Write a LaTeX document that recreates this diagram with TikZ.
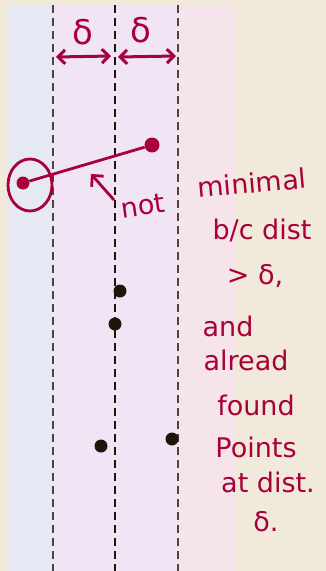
\documentclass[tikz,border=0pt]{standalone}
\usepackage{fontspec}
\setmainfont{DejaVu Sans}
\usetikzlibrary{arrows.meta}
\definecolor{bg}{HTML}{F1EADA}
\definecolor{bandA}{HTML}{E6E8F4}
\definecolor{bandB}{HTML}{F1E4F4}
\definecolor{bandC}{HTML}{F5E5EA}
\definecolor{ink}{HTML}{A8003A}
\definecolor{dk}{HTML}{1E160C}
\tikzset{
  x=1pt,y=-1pt,
  divider/.style={draw=dk!80, line width=1.4pt, dash pattern=on 8pt off 5pt},
  mainline/.style={draw=dk, line width=2.3pt, dash pattern=on 8pt off 5pt},
  hand/.style={text=ink, font=\fontsize{27}{28}\selectfont, inner sep=0pt},
  dotr/.style={circle, fill=ink, inner sep=0pt, minimum size=13pt},
  dotb/.style={circle, fill=dk, inner sep=0pt, minimum size=13pt},
  dimarrow/.style={draw=ink, line width=3pt, {Straight Barb[length=7pt,width=14pt]}-{Straight Barb[length=7pt,width=14pt]}},
}
\begin{document}
\begin{tikzpicture}
\useasboundingbox (0,0) rectangle (326,571);
\fill[bg] (0,0) rectangle (326,571);
\fill[bandA] (7,5) rectangle (53,571);
\fill[bandB] (53,5) rectangle (178,571);
\fill[bandC] (178,5) rectangle (235,571);
\coordinate (l1t) at (53,5); \coordinate (l1b) at (53,571);
\coordinate (l2t) at (115,5); \coordinate (l2b) at (115,571);
\coordinate (l3t) at (178,5); \coordinate (l3b) at (178,571);
\draw[divider] (l1t) -- (l1b);
\draw[mainline] (l2t) -- (l2b);
\draw[divider] (l3t) -- (l3b);
% delta arrows
\coordinate (a1) at (56,57); \coordinate (a2) at (111,56);
\coordinate (a3) at (118,57); \coordinate (a4) at (176,56);
\draw[dimarrow] (a1) -- (a2);
\draw[dimarrow] (a3) -- (a4);
\node[hand, font=\fontsize{34}{34}\selectfont] (d1) at (83,32) {δ};
\node[hand, font=\fontsize{34}{34}\selectfont] (d2) at (141,30) {δ};
% red points
\node[dotr] (p) at (23,183) {};
\node[dotr, minimum size=15pt] (q) at (152,145) {};
\draw[ink, line width=2.8pt] (30,185) ellipse (22 and 26);
\draw[ink, line width=2.8pt] (p) -- (q);
\coordinate (nt) at (91,174);
\node[hand, rotate=8] (notlbl) at (143,206) {not};
\draw[ink, line width=2.8pt, -{Straight Barb[length=8pt,width=16pt]}] (114,200) -- (nt);
% black points
\node[dotb] (b1) at (120,291) {};
\node[dotb] (b2) at (115,324) {};
\node[dotb] (b3) at (101,446) {};
\node[dotb] (b4) at (172,439) {};
% notes
\node[hand, rotate=5] (t1) at (252,183) {minimal};
\node[hand] (t2) at (262,230) {b/c dist};
\node[hand] (t3) at (255,276) {> δ,};
\node[hand] (t4) at (228,326) {and};
\node[hand] (t5) at (246,360) {alread};
\node[hand] (t6) at (256,405) {found};
\node[hand] (t7) at (256,447) {Points};
\node[hand] (t8) at (268,482) {at dist.};
\node[hand] (t9) at (266,522) {δ.};
\end{tikzpicture}
\end{document}
